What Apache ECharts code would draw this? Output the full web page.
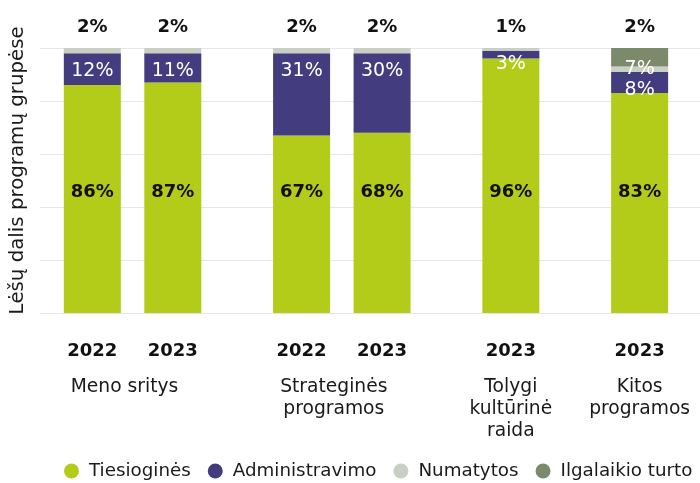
<!DOCTYPE html>
<html>
<head>
<meta charset="utf-8">
<script src="https://cdn.jsdelivr.net/npm/echarts@6/dist/echarts.min.js"></script>
<style>html,body{margin:0;padding:0;background:#fff}#c{width:700px;height:483px}</style>
</head>
<body>
<div id="c"></div>
<script>
// ---- data ----
var years = ['2022', '2023', '2022', '2023', '2023', '2023'];
var groups = ['Meno sritys', 'Strateginės\nprogramos', 'Tolygi\nkultūrinė\nraida', 'Kitos\nprogramos'];
var tiesiogines = [86, 87, 67, 68, 96, 83];
var administravimo = [12, 11, 31, 30, 3, 8];
var numatytos = [2, 2, 2, 2, 1, 2];
var ilgalaikio = [0, 0, 0, 0, 0, 7];
var seriesNames = ['Tiesioginės', 'Administravimo', 'Numatytos', 'Ilgalaikio turto'];

// ---- layout (slot grid on a category axis) ----
var SLOTS = 82;
var barSlots = [6, 16, 32, 42, 58, 74];
var groupSlots = [10, 36, 58, 74];
var FONT = 'DejaVu Sans';
var colors = ['#b3cc1a', '#433d7f', '#c9cfc2', '#7a8a6b'];

function blankSlots() { var a = []; for (var i = 0; i < SLOTS; i++) a.push(''); return a; }
var yearCats = blankSlots();
barSlots.forEach(function (s, i) { yearCats[s] = years[i]; });
var groupCats = blankSlots();
groupSlots.forEach(function (s, i) { groupCats[s] = groups[i]; });
var keys = []; for (var k = 0; k < SLOTS; k++) keys.push('s' + k);

function spread(values, itemFn) {
  var a = []; for (var i = 0; i < SLOTS; i++) a.push('-');
  barSlots.forEach(function (s, i) {
    var v = values[i];
    a[s] = itemFn ? itemFn(v, i) : v;
  });
  return a;
}

var chart = echarts.init(document.getElementById('c'), null, { renderer: 'canvas' });
var option = {
  animation: false,
  textStyle: { fontFamily: FONT },
  grid: { left: 39, top: 48, width: 663, height: 265 },
  legend: {
    data: seriesNames,
    top: 457,
    left: 59,
    width: 680,
    icon: 'circle',
    itemWidth: 15,
    itemHeight: 15,
    itemGap: 17,
    textStyle: { fontFamily: FONT, fontSize: 18.3, color: '#1a1a1a', padding: [0, 0, 0, 5] }
  },
  xAxis: [
    {
      type: 'category', data: keys, boundaryGap: true,
      axisLine: { show: false }, axisTick: { show: false },
      axisLabel: {
        interval: 0, margin: 28,
        formatter: function (v, i) { return yearCats[i]; },
        fontFamily: FONT, fontSize: 18, fontWeight: 'bold', color: '#111', lineHeight: 20
      }
    },
    {
      type: 'category', data: keys, boundaryGap: true, position: 'bottom',
      axisLine: { show: false }, axisTick: { show: false },
      axisLabel: {
        interval: 0, margin: 63,
        formatter: function (v, i) { return groupCats[i]; },
        fontFamily: FONT, fontSize: 18.7, color: '#1a1a1a', lineHeight: 22
      }
    }
  ],
  yAxis: {
    type: 'value', min: 0, max: 100, interval: 20,
    axisLabel: { show: false }, axisLine: { show: false }, axisTick: { show: false },
    splitLine: { lineStyle: { color: '#e6e6e6', width: 1 } },
    name: 'Lėšų dalis programų grupėse',
    nameLocation: 'middle',
    nameGap: 12,
    nameTextStyle: { fontFamily: FONT, fontSize: 19.8, color: '#1a1a1a', padding: [0, 0, 0, 20] }
  },
  series: [
    {
      name: seriesNames[0], type: 'bar', stack: 't', barWidth: 57,
      itemStyle: { color: colors[0] },
      label: {
        show: true, position: 'insideBottom', distance: 111,
        formatter: '{c}%', fontFamily: FONT, fontSize: 18, fontWeight: 'bold', color: '#111', lineHeight: 20
      },
      data: spread(tiesiogines)
    },
    {
      name: seriesNames[1], type: 'bar', stack: 't', barWidth: 57,
      itemStyle: { color: colors[1] },
      label: {
        show: true, position: 'insideTop', distance: 8,
        formatter: '{c}%', fontFamily: FONT, fontSize: 19, color: '#fff', lineHeight: 20
      },
      data: spread(administravimo, function (v, i) {
        if (v < 5) return { value: v, label: { distance: 3 } };
        return v;
      })
    },
    {
      name: seriesNames[2], type: 'bar', stack: 't', barWidth: 57,
      itemStyle: { color: colors[2] },
      label: { show: false },
      data: spread(numatytos)
    },
    {
      name: seriesNames[3], type: 'bar', stack: 't', barWidth: 57,
      itemStyle: { color: colors[3] },
      label: {
        show: true, position: 'insideTop', distance: 11,
        formatter: function (p) { return p.value > 0 ? p.value + '%' : ''; },
        fontFamily: FONT, fontSize: 19, color: '#fff', lineHeight: 20
      },
      data: spread(ilgalaikio)
    },
    {
      name: 'top', type: 'bar', stack: 't', barWidth: 57,
      itemStyle: { color: 'rgba(0,0,0,0)' },
      silent: true,
      label: {
        show: true, position: 'top', distance: 11,
        formatter: function (p) { return numatytos[barSlots.indexOf(p.dataIndex)] + '%'; },
        fontFamily: FONT, fontSize: 18, fontWeight: 'bold', color: '#111', lineHeight: 20
      },
      data: spread(numatytos, function () { return 0; })
    }
  ]
};
chart.setOption(option);
</script>
</body>
</html>
